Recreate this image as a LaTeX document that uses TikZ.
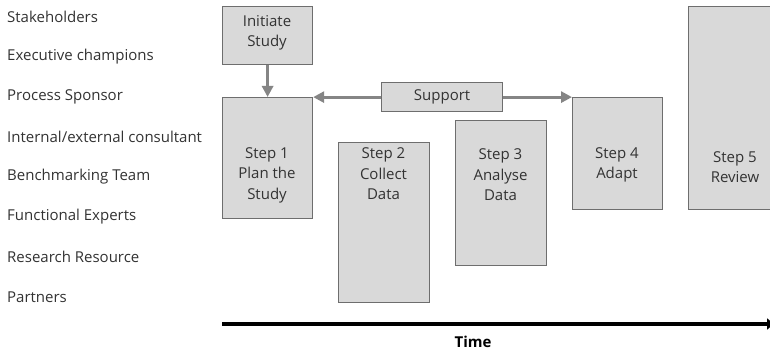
\documentclass[tikz,border=0pt]{standalone}
\usepackage{fontspec}
\setmainfont{Open Sans}
\usetikzlibrary{arrows.meta}
\definecolor{boxfill}{HTML}{D9D9D9}
\definecolor{boxline}{HTML}{6E6E6E}
\definecolor{flowgray}{HTML}{858585}
\definecolor{txt}{HTML}{333333}
\tikzset{
  stepbox/.style={draw=boxline, line width=1.2pt, fill=boxfill, inner sep=0pt, anchor=north west},
  steptext/.style={text=txt, font=\fontsize{15}{20.5}\selectfont, align=center, inner sep=0pt},
  rolelabel/.style={text=txt, font=\fontsize{15}{18}\selectfont, anchor=west, inner sep=0pt},
  flow/.style={draw=flowgray, line width=3pt, -{Triangle[length=11pt,width=11pt]}},
}
\begin{document}
\begin{tikzpicture}[x=1pt,y=-1pt]
\clip (0,0) rectangle (770,352);
\fill[white] (0,0) rectangle (770,352);

% participants down the left side
\node[rolelabel] (r1) at (7,17)  {Stakeholders};
\node[rolelabel] (r2) at (7,57)  {Executive champions};
\node[rolelabel] (r3) at (7,97)  {Process Sponsor};
\node[rolelabel] (r4) at (7,137) {Internal/external consultant};
\node[rolelabel] (r5) at (7,177) {Benchmarking Team};
\node[rolelabel] (r6) at (7,217) {Functional Experts};
\node[rolelabel] (r7) at (7,257) {Research Resource};
\node[rolelabel] (r8) at (7,297) {Partners};

% boxes
\node[stepbox, minimum width=90pt, minimum height=58pt]  (init)  at (222,6)   {};
\node[stepbox, minimum width=90pt, minimum height=121pt] (s1)    at (222,97)  {};
\node[stepbox, minimum width=91pt, minimum height=160pt] (s2)    at (338,142) {};
\node[stepbox, minimum width=91pt, minimum height=145pt] (s3)    at (455,120) {};
\node[stepbox, minimum width=90pt, minimum height=112pt] (s4)    at (572,97)  {};
\node[stepbox, minimum width=94pt, minimum height=203pt] (s5)    at (688,6)   {};
\node[stepbox, minimum width=121pt, minimum height=29pt] (sup)   at (381,82)  {};

% box texts
\node[steptext] (tinit) at (267,33)    {Initiate\\Study};
\node[steptext] (t1)    at (267,175)   {Step 1\\Plan the\\Study};
\node[steptext] (t2)    at (383.5,174) {Step 2\\Collect\\Data};
\node[steptext] (t3)    at (500.5,175) {Step 3\\Analyse\\Data};
\node[steptext] (t4)    at (617,165)   {Step 4\\Adapt};
\node[steptext] (t5)    at (735,167)   {Step 5\\Review};
\node[steptext] (tsup)  at (sup.center) {Support};

% connectors
\draw[flow] (init.south) -- (s1.north);
\draw[flow] (sup.west) -- (s1.east |- sup.west);
\draw[flow] (sup.east) -- (s4.west |- sup.east);

% time axis
\coordinate (tstart) at (222,324);
\coordinate (tend) at (774,324);
\draw[line width=4pt, -{Triangle[length=7pt,width=11pt]}] (tstart) -- (tend);
\node[text=black, font=\bfseries\fontsize{15}{18}\selectfont, inner sep=0pt] (time) at (473,342) {Time};
\end{tikzpicture}
\end{document}
